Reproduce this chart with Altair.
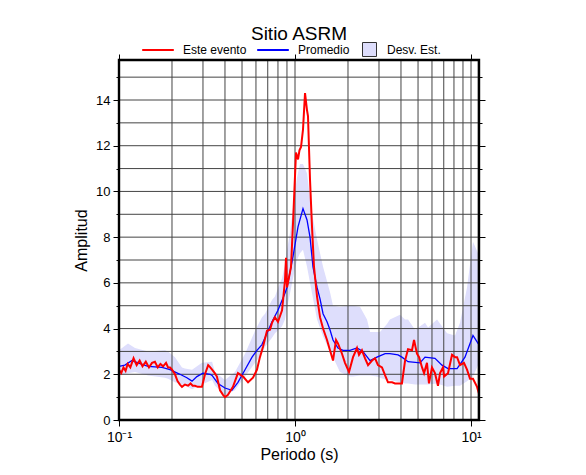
import altair as alt
import pandas as pd

TITLE = "Sitio ASRM"
X_TITLE = "Periodo (s)"
Y_TITLE = "Amplitud"
SERIES = ["Este evento", "Promedio"]
BAND_NAME = "Desv. Est."

# Este evento (red)
red_period = [0.100, 0.103, 0.106, 0.109, 0.112, 0.116, 0.121, 0.126, 0.131, 0.136,
              0.142, 0.148, 0.154, 0.160, 0.166, 0.172, 0.178, 0.185, 0.190, 0.195,
              0.200, 0.208, 0.215, 0.222, 0.228, 0.237, 0.247, 0.255, 0.262, 0.270,
              0.280, 0.290, 0.296, 0.308, 0.321, 0.330, 0.338, 0.350, 0.360, 0.375,
              0.390, 0.400, 0.416, 0.444, 0.474, 0.507, 0.541, 0.577, 0.608, 0.632,
              0.658, 0.693, 0.721, 0.740, 0.769, 0.800, 0.844, 0.877, 0.889, 0.901,
              0.949, 0.974, 1.013, 1.040, 1.060, 1.082, 1.110, 1.140, 1.170, 1.185,
              1.217, 1.249, 1.282, 1.334, 1.387, 1.443, 1.520, 1.580, 1.644, 1.710,
              1.754, 1.849, 1.923, 2.027, 2.136, 2.250, 2.310, 2.400, 2.500, 2.600,
              2.740, 2.850, 2.960, 3.120, 3.250, 3.375, 3.560, 3.700, 3.900, 4.050,
              4.220, 4.385, 4.620, 4.745, 4.930, 5.070, 5.270, 5.410, 5.620, 5.770,
              6.000, 6.240, 6.490, 6.670, 6.930, 7.030, 7.400, 7.800, 8.110, 8.330,
              8.660, 9.120, 9.490, 9.870, 10.26, 10.82, 11.10]
red_amp = [2.20, 2.05, 2.30, 2.15, 2.45, 2.30, 2.70, 2.40, 2.60, 2.35,
           2.55, 2.30, 2.50, 2.55, 2.30, 2.45, 2.35, 2.50, 2.30, 2.30,
           2.20, 2.00, 1.70, 1.55, 1.45, 1.55, 1.50, 1.60, 1.50, 1.50,
           1.45, 1.45, 1.45, 2.00, 2.40, 2.30, 2.20, 2.05, 1.90, 1.30,
           1.10, 1.00, 1.10, 1.45, 2.05, 1.90, 1.65, 1.85, 2.20, 2.75,
           3.20, 3.90, 3.95, 4.25, 4.50, 4.30, 4.80, 6.10, 7.10, 5.80,
           6.70, 8.60, 11.70, 11.40, 11.80, 11.95, 12.70, 14.30, 13.55, 13.30,
           10.50, 8.45, 6.70, 5.40, 4.50, 4.00, 3.50, 3.05, 2.60, 3.50,
           3.35, 2.90, 2.50, 2.10, 2.75, 3.15, 2.85, 3.05, 2.70, 2.40,
           2.60, 2.70, 2.40, 2.30, 1.95, 1.65, 1.65, 1.60, 1.60, 1.60,
           2.60, 3.10, 3.05, 3.50, 2.90, 2.75, 2.30, 2.05, 2.50, 1.60,
           2.30, 2.05, 1.50, 2.05, 2.30, 1.90, 2.05, 2.85, 2.75, 2.75,
           2.40, 2.50, 2.20, 1.80, 1.80, 1.45, 1.15]

# Promedio (blue)
blue_period = [0.100, 0.108, 0.1186, 0.1282, 0.1462, 0.1755, 0.195, 0.222, 0.243, 0.260,
               0.277, 0.300, 0.329, 0.338, 0.365, 0.400, 0.438, 0.474, 0.520, 0.570,
               0.608, 0.649, 0.693, 0.740, 0.800, 0.877, 0.901, 0.974, 1.040, 1.110,
               1.170, 1.217, 1.265, 1.334, 1.387, 1.443, 1.520, 1.580, 1.644, 1.754,
               1.874, 2.053, 2.250, 2.430, 2.670, 2.920, 3.250, 3.460, 3.850, 4.050,
               4.385, 5.130, 5.480, 6.240, 6.840, 7.400, 8.330, 9.240, 10.26, 10.96, 11.10]
blue_amp = [2.35, 2.40, 2.60, 2.50, 2.35, 2.30, 2.20, 2.00, 1.85, 1.70,
            1.90, 2.05, 2.00, 1.95, 1.60, 1.40, 1.30, 1.65, 2.20, 2.75,
            3.05, 3.30, 3.80, 4.30, 4.80, 5.55, 5.80, 7.15, 8.45, 9.25,
            8.75, 8.00, 6.70, 5.80, 5.30, 4.65, 4.30, 3.95, 3.50, 3.15,
            3.05, 3.05, 3.15, 3.00, 2.60, 2.75, 2.90, 2.90, 2.85, 2.75,
            2.55, 2.50, 2.75, 2.70, 2.40, 2.25, 2.25, 2.75, 3.70, 3.35, 3.30]

# Desv. Est. band
band_period = [0.100, 0.1125, 0.1233, 0.1462, 0.1825, 0.190, 0.208, 0.228, 0.237, 0.260,
               0.296, 0.338, 0.351, 0.400, 0.456, 0.520, 0.593, 0.649, 0.676, 0.740,
               0.769, 0.822, 0.844, 0.877, 0.901, 0.937, 0.974, 1.026, 1.067, 1.110,
               1.170, 1.249, 1.334, 1.443, 1.580, 1.644, 1.800, 2.053, 2.136, 2.340,
               2.565, 2.670, 2.920, 3.040, 3.330, 3.460, 3.950, 4.220, 4.385, 4.810,
               5.480, 5.700, 6.410, 7.310, 8.110, 8.660, 9.490, 10.26, 10.96, 11.10]
band_upper = [3.05, 3.35, 3.15, 3.00, 3.05, 3.00, 2.75, 2.30, 2.25, 2.20,
              2.50, 2.55, 2.10, 1.75, 2.10, 2.90, 3.90, 4.50, 4.65, 5.25,
              5.40, 6.00, 6.20, 6.80, 7.45, 8.20, 9.30, 10.60, 11.20, 11.20,
              10.80, 9.05, 7.90, 6.70, 5.60, 5.00, 4.95, 5.00, 5.00, 4.95,
              4.40, 3.85, 3.85, 3.85, 4.20, 4.40, 4.60, 4.40, 4.40, 3.95,
              4.25, 4.05, 4.40, 3.80, 3.70, 4.25, 5.80, 7.80, 7.30, 7.20]
band_lower = [1.95, 2.05, 2.10, 1.95, 1.85, 1.80, 1.65, 1.55, 1.50, 1.35,
              1.55, 1.75, 1.50, 1.10, 1.30, 1.90, 2.50, 2.90, 3.20, 3.60,
              3.80, 4.00, 4.10, 4.40, 4.90, 5.55, 6.20, 7.00, 7.30, 7.45,
              6.70, 5.55, 4.40, 3.65, 3.00, 2.75, 2.10, 1.90, 1.90, 1.95,
              1.95, 1.95, 1.90, 1.85, 1.75, 1.75, 1.65, 1.60, 1.60, 1.55,
              1.55, 1.55, 1.60, 1.45, 1.50, 1.50, 1.70, 1.90, 2.40, 2.50]

x_grid = [0.1, 0.2, 0.3, 0.4, 0.5, 0.6, 0.7, 0.8, 0.9, 1, 2, 3, 4, 5, 6, 7, 8, 9, 10, 11]
y_grid = [0, 1, 2, 3, 4, 5, 6, 7, 8, 9, 10, 11, 12, 13, 14, 15]

FONT = "Liberation Sans"
RED = "#ff0000"
BLUE = "#0000ff"
LAV = "#dedefc"
GRID = "#444444"

red = pd.DataFrame({"periodo": red_period, "amp": red_amp, "serie": SERIES[0]})
blue = pd.DataFrame({"periodo": blue_period, "amp": blue_amp, "serie": SERIES[1]})
band = pd.DataFrame({"periodo": band_period, "sup": band_upper, "inf": band_lower, "b": BAND_NAME})
xg = pd.DataFrame({"v": x_grid})
yg = pd.DataFrame({"v": y_grid})

xs = alt.Scale(type="log", domain=[0.1, 11.1], nice=False)
ys = alt.Scale(domain=[0, 15.75], nice=False, zero=False)

decade = "datum.value == 0.1 || datum.value == 1 || datum.value == 10"
even = "datum.value % 2 == 0"
xtick = {"condition": {"test": decade, "value": 6}, "value": 0}
ytick = {"condition": {"test": even, "value": 6}, "value": 3}

x_bottom = alt.Axis(values=x_grid, grid=False, domain=False, title=X_TITLE,
                    labelExpr="datum.value == 0.1 ? '10⁻¹' : datum.value == 1 ? '10⁰' : datum.value == 10 ? '10¹' : ''",
                    tickSize=xtick, tickColor="black", labelFontSize=14, titleFontSize=16,
                    labelFont=FONT, titleFont=FONT, titleFontWeight="normal", labelColor="black",
                    titleColor="black", labelOverlap=False, labelFlush=False, labelPadding=4, titlePadding=2)
x_top = alt.Axis(orient="top", values=x_grid, grid=False, domain=False, labels=False, title="",
                 tickSize=xtick, tickColor="black")
y_left = alt.Axis(values=y_grid, grid=False, domain=False, title=Y_TITLE,
                  labelExpr="datum.value % 2 == 0 ? datum.value : ''",
                  tickSize=ytick, tickColor="black", labelFontSize=13, titleFontSize=16,
                  labelFont=FONT, titleFont=FONT, titleFontWeight="normal", labelColor="black",
                  titleColor="black", labelOverlap=False, labelFlush=False, labelPadding=3, titlePadding=6)
y_right = alt.Axis(orient="right", values=y_grid, grid=False, domain=False, labels=False, title="",
                   tickSize=ytick, tickColor="black")

band_layer = alt.Chart(band).mark_area(opacity=1).encode(
    x=alt.X("periodo:Q", scale=xs, axis=x_bottom),
    y=alt.Y("sup:Q", scale=ys, axis=y_left),
    y2="inf:Q",
    fill=alt.Fill("b:N", scale=alt.Scale(domain=[BAND_NAME], range=[LAV]),
                  legend=alt.Legend(orient="none", legendX=243, legendY=-18, title=None,
                                    symbolType="square", symbolSize=196, symbolStrokeColor="#333333",
                                    symbolStrokeWidth=1, symbolOpacity=1, labelFontSize=12, labelFont=FONT,
                                    labelColor="black", labelOffset=10, padding=0)),
)

vgrid = alt.Chart(xg).mark_rule(color=GRID, strokeWidth=1).encode(
    x=alt.X("v:Q", scale=xs, axis=x_top))
hgrid = alt.Chart(yg).mark_rule(color=GRID, strokeWidth=1).encode(
    y=alt.Y("v:Q", scale=ys, axis=y_right))

color_scale = alt.Scale(domain=SERIES, range=[RED, BLUE])
line_legend = alt.Legend(orient="none", legendX=22, legendY=-27, direction="horizontal", title=None,
                         symbolType="stroke", symbolSize=1000, symbolStrokeWidth=2,
                         labelFontSize=12, labelFont=FONT, labelColor="black", labelOffset=8,
                         columnPadding=6, padding=0)

blue_layer = alt.Chart(blue).mark_line(strokeWidth=1.3).encode(
    x=alt.X("periodo:Q", scale=xs, axis=None),
    y=alt.Y("amp:Q", scale=ys, axis=None),
    color=alt.Color("serie:N", scale=color_scale, legend=line_legend),
)
red_layer = alt.Chart(red).mark_line(strokeWidth=2).encode(
    x=alt.X("periodo:Q", scale=xs, axis=None),
    y=alt.Y("amp:Q", scale=ys, axis=None),
    color=alt.Color("serie:N", scale=color_scale, legend=line_legend),
)

# plot frame (decoration): one rectangle around the plot area
frame_layer = alt.Chart(alt.Data(values=[{"f": 1}])).mark_rect(
    fill=None, stroke="black", strokeWidth=2.4, fillOpacity=0
).encode(x=alt.value(0), x2=alt.value(360), y=alt.value(0), y2=alt.value(360))

chart = alt.layer(band_layer, vgrid, hgrid, blue_layer, red_layer, frame_layer).resolve_axis(
    x="independent", y="independent"
).properties(
    width=360, height=360,
    background="white",
    title=alt.Title(TITLE, fontSize=19, font=FONT, fontWeight="normal", color="black",
                    anchor="middle", frame="group", offset=10, dy=21),
    autosize=alt.AutoSizeParams(type="none"),
    padding={"left": 111, "top": 52, "right": 99, "bottom": 47},
)

chart.save("out.html", embed_options={"renderer": "svg", "actions": False})
